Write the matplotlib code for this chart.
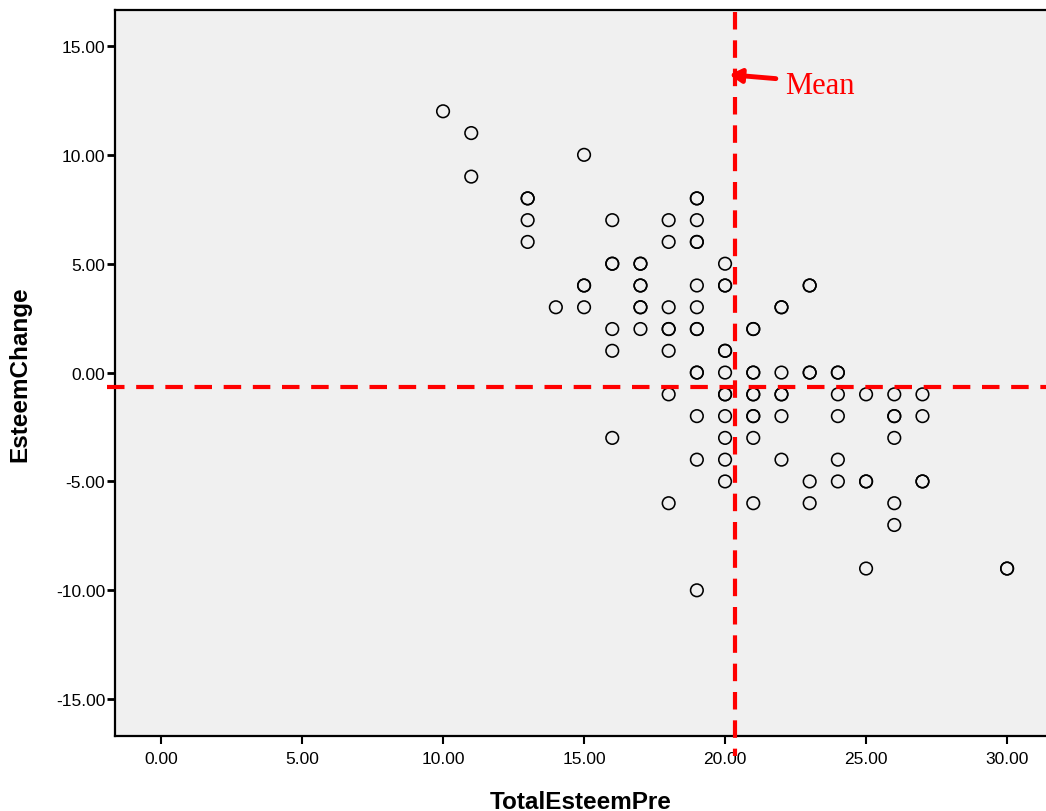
import matplotlib
matplotlib.use("Agg")
import matplotlib.pyplot as plt

# TotalEsteemPre (x) and EsteemChange (y); repeated pairs are overlapping cases
esteem_pre = [
    10,
    11, 11,
    13, 13, 13, 13,
    14,
    15, 15, 15, 15,
    16, 16, 16, 16, 16, 16,
    17, 17, 17, 17, 17, 17, 17,
    18, 18, 18, 18, 18, 18, 18, 18,
    19, 19, 19, 19, 19, 19, 19, 19, 19, 19, 19, 19, 19, 19,
    20, 20, 20, 20, 20, 20, 20, 20, 20, 20, 20, 20,
    21, 21, 21, 21, 21, 21, 21, 21, 21, 21,
    22, 22, 22, 22, 22, 22, 22,
    23, 23, 23, 23, 23, 23,
    24, 24, 24, 24, 24, 24,
    25, 25, 25, 25,
    26, 26, 26, 26, 26, 26,
    27, 27, 27, 27,
    30, 30,
]
esteem_change = [
    12,
    11, 9,
    8, 8, 7, 6,
    3,
    10, 4, 4, 3,
    7, 5, 5, 2, 1, -3,
    5, 5, 4, 4, 3, 3, 2,
    7, 6, 3, 2, 2, 1, -1, -6,
    8, 8, 7, 6, 6, 4, 3, 2, 2, 0, 0, -2, -4, -10,
    5, 4, 4, 1, 1, 0, -1, -1, -2, -3, -4, -5,
    2, 2, 0, 0, -1, -1, -2, -2, -3, -6,
    3, 3, 0, -1, -1, -2, -4,
    4, 4, 0, 0, -5, -6,
    0, 0, -1, -2, -4, -5,
    -1, -5, -5, -9,
    -1, -2, -2, -3, -6, -7,
    -1, -2, -5, -5,
    -9, -9,
]

mean_pre = 20.35
mean_change = -0.67

x_ticks = [0, 5, 10, 15, 20, 25, 30]
y_ticks = [-15, -10, -5, 0, 5, 10, 15]

plt.rcParams["font.family"] = ["Liberation Sans", "DejaVu Sans"]

fig = plt.figure(figsize=(10.46, 8.12), dpi=100)
ax = fig.add_axes([0.110, 0.0924, 0.890, 0.894])
ax.set_facecolor("#f0f0f0")

ax.scatter(esteem_pre, esteem_change, s=82, facecolors="none",
           edgecolors="black", linewidths=1.15, zorder=3)

# mean lines run a little past the plot frame, as in the original
red = "#ff0000"
ax.plot([mean_pre, mean_pre], [16.55, -17.6], color=red, lw=3,
        dashes=(4.2, 2.6), clip_on=False, zorder=4)
ax.plot([-1.9, 31.5], [mean_change, mean_change], color=red, lw=3,
        dashes=(4.2, 2.8), clip_on=False, zorder=4)

ax.annotate("", xy=(20.15, 13.68), xytext=(21.8, 13.5),
            arrowprops=dict(arrowstyle="-|>,head_length=0.7,head_width=0.4",
                            color=red, lw=3.5, shrinkA=0, shrinkB=0),
            zorder=5)
ax.text(22.12, 13.2, "Mean", color=red, fontsize=22,
        family=["Liberation Serif", "DejaVu Serif"], va="center", ha="left")

ax.set_xlim(-1.63, 31.38)
ax.set_ylim(-16.69, 16.65)
ax.set_xticks(x_ticks)
ax.set_yticks(y_ticks)
ax.set_xticklabels([f"{v:.2f}" for v in x_ticks])
ax.set_yticklabels([f"{v:.2f}" for v in y_ticks])
ax.tick_params(axis="x", direction="out", length=6, width=1.5,
               labelsize=12.5, pad=5)
ax.tick_params(axis="y", direction="out", length=6, width=2,
               labelsize=12.5, pad=1)

for side in ["left", "bottom", "top"]:
    ax.spines[side].set_linewidth(1.6)
ax.spines["right"].set_visible(False)

ax.set_xlabel("TotalEsteemPre", fontsize=17.5, fontweight="bold", labelpad=17)
ax.set_ylabel("EsteemChange", fontsize=17.5, fontweight="bold", labelpad=18)

fig.savefig("out.png", dpi=100)
